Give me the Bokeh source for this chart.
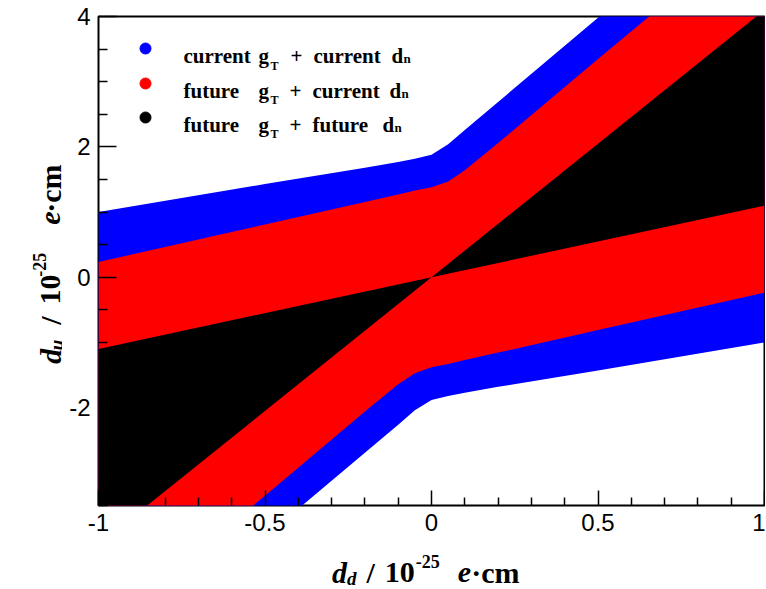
import math
from bokeh.plotting import figure
from bokeh.models import Range1d, FixedTicker, Label
from bokeh.layouts import column, row
from bokeh.core.properties import value
from bokeh.embed import file_html
from bokeh.resources import INLINE

# ---------------- data ----------------
x_ticks = [-1, -0.5, 0, 0.5, 1]
x_tick_labels = ["-1", "-0.5", "0", "0.5", "1"]
x_minor = [-0.9, -0.8, -0.7, -0.6, -0.4, -0.3, -0.2, -0.1,
           0.1, 0.2, 0.3, 0.4, 0.6, 0.7, 0.8, 0.9]
y_ticks = [-2, 0, 2, 4]
y_tick_labels = ["-2", "0", "2", "4"]
y_minor = [-3.5, -3, -2.5, -1.5, -1, -0.5, 0.5, 1, 1.5, 2.5, 3, 3.5]

# band boundaries (d_d on x, d_u on y)
band_x = [-1.0, -0.5, -0.2, -0.1, -0.05, 0.0, 0.05, 0.1, 0.2, 0.5, 1.0]
blue_upper = [1.00, 1.43, 1.68, 1.77, 1.82, 1.88, 2.04, 2.26, 2.69, 3.98, 6.13]
blue_lower = [-6.13, -3.98, -2.69, -2.26, -2.04, -1.88, -1.82, -1.77, -1.68, -1.43, -1.00]
red_upper = [0.235, 0.81, 1.155, 1.27, 1.33, 1.38, 1.47, 1.64, 2.06, 3.35, 5.47]
red_lower = [-5.47, -3.35, -2.06, -1.64, -1.47, -1.38, -1.33, -1.27, -1.155, -0.81, -0.235]
black_right_x = [0.0, 1.0, 1.0]
black_right_y = [0.0, 1.1, 4.1]
black_left_x = [0.0, -1.0, -1.0]
black_left_y = [0.0, -1.1, -4.1]

series_colors = ["#0000ff", "#ff0000", "#000000"]

# legend rows: runs (text, page_x, baseline shift, size)
legend_rows = [
    [("current", 183, 0, 21), ("g", 258, 0, 21), ("T", 270, 10, 12),
     ("+", 290, 0, 21), ("current", 313, 0, 21), ("d", 391, 0, 21), ("n", 403, 3, 13)],
    [("future", 183, 0, 21), ("g", 258, 0, 21), ("T", 270, 9, 12),
     ("+", 289, 0, 21), ("current", 312, 0, 21), ("d", 389, 0, 21), ("n", 401, 3, 13)],
    [("future", 183, 0, 21), ("g", 258, 0, 21), ("T", 270, 9, 12),
     ("+", 289, 0, 21), ("future", 312, 0, 21), ("d", 382, 0, 21), ("n", 394, 3, 13)],
]
legend_baselines = [55, 90, 124]
legend_marker_y = [48, 83, 117]
legend_marker_x = 145

# title runs: (text, size, style, baseline shift, gap before)
x_title_runs = [("d", 30, "bold italic", 0, 0), ("d", 19, "bold italic", 6, 0),
                ("/", 30, "bold", 0, 10), ("10", 30, "bold", 0, 10),
                ("-25", 18, "bold", -11, 1), ("e", 30, "bold italic", 0, 18),
                ("\u00b7cm", 30, "bold", 0, 0)]
y_title_runs = [("d", 30, "bold italic", 0, 0), ("u", 19, "bold italic", 6, 0),
                ("/", 30, "bold", 0, 18), ("10", 30, "bold", 0, 14),
                ("-25", 18, "bold", -11, 1), ("e", 30, "bold italic", 0, 34),
                ("\u00b7cm", 30, "bold", 0, 0)]

# ---------------- layout (page pixels) ----------------
TOTAL_W, TOTAL_H = 765, 588
YT_W = 62                 # width of the y-title strip
MAIN_H = 545              # height of the main figure
FRAME_L, FRAME_T, FRAME_B = 98, 16, 505

XR = (-1, 1)
YR = (-3.5, 4)

p = figure(width=TOTAL_W - YT_W, height=MAIN_H, x_range=Range1d(*XR), y_range=Range1d(*YR),
           output_backend="svg", toolbar_location=None,
           min_border_left=FRAME_L - YT_W, min_border_right=1,
           min_border_top=FRAME_T, min_border_bottom=MAIN_H - FRAME_B)
p.xgrid.visible = False
p.ygrid.visible = False
p.outline_line_color = "black"
p.outline_line_width = 2
p.background_fill_color = "white"
p.border_fill_color = "white"

# bands
p.patch(band_x + band_x[::-1], blue_upper + blue_lower[::-1],
        fill_color=series_colors[0], line_color=None)
p.patch(band_x + band_x[::-1], red_upper + red_lower[::-1],
        fill_color=series_colors[1], line_color=None)
p.patches([black_right_x, black_left_x], [black_right_y, black_left_y],
          fill_color=series_colors[2], line_color=None)

# axes
for ax, ticks, minor, labels, tin, tmin in [
        (p.xaxis[0], x_ticks, x_minor, x_tick_labels, 15, 8),
        (p.yaxis[0], y_ticks, y_minor, y_tick_labels, 18, 9)]:
    ax.ticker = FixedTicker(ticks=ticks, minor_ticks=minor)
    ax.major_label_overrides = {t: l for t, l in zip(ticks, labels)}
    ax.axis_line_color = None
    ax.major_tick_in = tin
    ax.major_tick_out = 0
    ax.minor_tick_in = tmin
    ax.minor_tick_out = 0
    ax.major_tick_line_color = "black"
    ax.minor_tick_line_color = "black"
    ax.major_tick_line_width = 1.5
    ax.minor_tick_line_width = 1.5
    ax.major_label_text_font = "Liberation Sans"
    ax.major_label_text_font_size = "24px"
    ax.major_label_text_color = "black"
    ax.major_label_standoff = 8

FW = (TOTAL_W - YT_W) - (FRAME_L - YT_W) - 1
FH = FRAME_B - FRAME_T


def page_to_frame(px, py):
    return px - FRAME_L, FRAME_B - py


def page_to_data(px, py):
    sx, sy = page_to_frame(px, py)
    return XR[0] + sx / FW * (XR[1] - XR[0]), YR[0] + sy / FH * (YR[1] - YR[0])


# legend markers
mx, my = [], []
for yy in legend_marker_y:
    dx, dy = page_to_data(legend_marker_x, yy)
    mx.append(dx)
    my.append(dy)
p.scatter(mx, my, size=11, marker="circle", fill_color=series_colors, line_color=series_colors)

# legend text
for row_runs, base in zip(legend_rows, legend_baselines):
    for txt, px, shift, size in row_runs:
        sx, sy = page_to_frame(px, base + shift)
        p.add_layout(Label(x=sx, y=sy, x_units="screen", y_units="screen", text=txt,
                           text_font="Liberation Serif", text_font_style="bold",
                           text_font_size=f"{size}px", text_color="black",
                           text_align="left", text_baseline="alphabetic"))

# ---------------- axis titles (separate strips, data units = page pixels) ----------------
W_BOLD = {"/": 0.278, "-": 0.333, "\u00b7": 0.25, "c": 0.444, "m": 0.833}
W_BI = {"d": 0.5, "e": 0.444, "u": 0.556}


def run_width(txt, size, style):
    tab = W_BI if "italic" in style else W_BOLD
    return sum(tab.get(c, 0.5) for c in txt) * size


def strip(width, height, x0, y0):
    f = figure(width=width, height=height, output_backend="svg", toolbar_location=None,
               x_range=Range1d(x0, x0 + width), y_range=Range1d(y0 + height, y0),
               x_axis_type=None, y_axis_type=None, min_border=0)
    f.xgrid.visible = False
    f.ygrid.visible = False
    f.outline_line_color = None
    f.background_fill_color = "white"
    f.border_fill_color = "white"
    return f


def place_title(fig, runs, center, base, vertical):
    total = sum(run_width(t, s, st) + g for t, s, st, _, g in runs)
    pos = center - total / 2 if not vertical else center + total / 2
    for t, s, st, sh, g in runs:
        pos = pos + g if not vertical else pos - g
        if not vertical:
            xx, yy, ang = pos, base + sh, 0
        else:
            xx, yy, ang = base + sh, pos, math.pi / 2
        fig.text(x=[xx], y=[yy], text=[t], angle=ang,
                 text_font=value("Liberation Serif"), text_font_style=value(st),
                 text_font_size=value(f"{s}px"), text_color="black",
                 text_align="left", text_baseline="alphabetic")
        w = run_width(t, s, st)
        pos = pos + w if not vertical else pos - w


yfig = strip(YT_W, MAIN_H, 0, 0)
place_title(yfig, y_title_runs, 280, 50, True)

xfig = strip(TOTAL_W, TOTAL_H - MAIN_H, 0, MAIN_H)
place_title(xfig, x_title_runs, 424, 572, False)

layout = column(row(yfig, p), xfig)
open("out.html", "w").write(file_html(layout, INLINE))
